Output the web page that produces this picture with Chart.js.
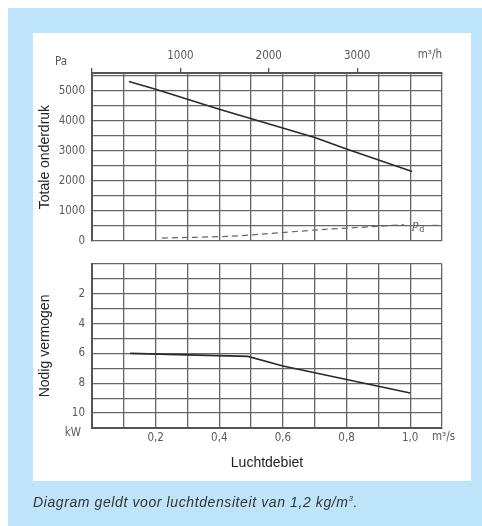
<!DOCTYPE html>
<html>
<head>
<meta charset="utf-8">
<script src="https://cdn.jsdelivr.net/npm/chart.js@4.4.1/dist/chart.umd.min.js"></script>
<style>
  body { margin: 0; width: 482px; height: 526px; position: relative; overflow: hidden; background: #fff; font-family: 'Liberation Sans', Arial, sans-serif; }
  #band { position: absolute; left: 8px; top: 8px; width: 474px; height: 518px; background: #bde4f9; }
  #panel { position: absolute; left: 33px; top: 33px; width: 438px; height: 448px; background: #fff; }
  #topChart { position: absolute; left: 33px; top: 33px; }
  #botChart { position: absolute; left: 33px; top: 250px; }
  #note { position: absolute; left: 33px; top: 494px; font-style: italic; font-size: 14px; letter-spacing: 0.6px; color: #333; }
</style>
</head>
<body>
<div id="band"></div>
<div id="panel"></div>
<canvas id="topChart" width="438" height="222"></canvas>
<canvas id="botChart" width="438" height="226"></canvas>
<div id="note">Diagram geldt voor luchtdensiteit van 1,2 kg/m<sup style="font-size:8px">3</sup>.</div>

<script>
// Values (flow in m3/s)
const pressureFlow = [0.116, 0.2, 0.4, 0.7, 0.8, 1.006];
const pressurePa = [5320, 5060, 4390, 3450, 3070, 2320];

const dynFlow = [0.22, 0.43, 0.53, 0.73, 0.88, 0.98];
const dynPa = [100, 160, 230, 390, 480, 550];

const powerFlow = [0.12, 0.3, 0.49, 0.6, 0.8, 1.0];
const powerKw = [6.0, 6.1, 6.2, 6.85, 7.75, 8.65];

// grid / tick labels
const flowGrid = [0, 0.1, 0.2, 0.3, 0.4, 0.5, 0.6, 0.7, 0.8, 0.9, 1.0, 1.1];
const flowLabels = ['', '', '0,2', '', '0,4', '', '0,6', '', '0,8', '', '1,0', ''];
const hourTicks = [0, 1000, 2000, 3000];
const hourLabels = ['', '1000', '2000', '3000'];
const paGrid = [0, 500, 1000, 1500, 2000, 2500, 3000, 3500, 4000, 4500, 5000, 5500, 5600];
const kwGrid = [0, 1, 2, 3, 4, 5, 6, 7, 8, 9, 10, 11];
const kwLabels = ['', '', '2', '', '4', '', '6', '', '8', '', '10', ''];

const GRID = '#666';
const FRAME = '#555';
const tickFont = { family: "'DejaVu Sans Condensed', 'DejaVu Sans', sans-serif", size: 11.5 };
const tickColor = '#5a5a5a';
const unitFont = "11.5px 'DejaVu Sans Condensed', 'DejaVu Sans', sans-serif";
const titleFont = { family: "'Liberation Sans', Arial, sans-serif", size: 14 };

function toPoints(xs, ys) {
    return xs.map((x, i) => ({ x: x, y: ys[i] }));
}

function setTicks(values) {
    return scale => { scale.ticks = values.map(v => ({ value: v })); };
}

// extra unit labels for the top chart
const topLabels = {
    id: 'topLabels',
    afterDraw(chart) {
        const ctx = chart.ctx;
        const area = chart.chartArea;
        const sx = chart.scales.x, sy = chart.scales.y;
        ctx.save();
        ctx.fillStyle = tickColor;
        ctx.font = unitFont;
        ctx.textBaseline = 'middle';
        ctx.textAlign = 'center';
        ctx.fillText('Pa', 28, 29);
        ctx.textAlign = 'right';
        ctx.fillText('m³/h', area.right, 22);
        // p_d marker at the end of the dashed curve
        const px = sx.getPixelForValue(1.0) + 2;
        const py = sy.getPixelForValue(560);
        ctx.textAlign = 'left';
        ctx.font = "italic 13px 'Liberation Serif', serif";
        ctx.fillText('p', px, py);
        ctx.font = "10px 'Liberation Serif', serif";
        ctx.fillText('d', px + 7, py + 5);
        ctx.strokeStyle = '#666';
        ctx.lineWidth = 1;
        ctx.beginPath();
        ctx.moveTo(px + 20, py + 1);
        ctx.lineTo(px + 26, py + 1);
        ctx.stroke();
        ctx.restore();
    }
};

const botLabels = {
    id: 'botLabels',
    afterDraw(chart) {
        const ctx = chart.ctx;
        const area = chart.chartArea;
        ctx.save();
        ctx.fillStyle = tickColor;
        ctx.font = unitFont;
        ctx.textBaseline = 'middle';
        ctx.textAlign = 'right';
        ctx.fillText('kW', 48, 183);
        ctx.textAlign = 'left';
        ctx.fillText('m³/s', area.right - 10, 187);
        ctx.restore();
    }
};

new Chart(document.getElementById('topChart'), {
    type: 'line',
    data: {
        datasets: [
            {
                data: toPoints(pressureFlow, pressurePa),
                borderColor: '#2a2a2a',
                borderWidth: 1.6,
                pointRadius: 0,
                xAxisID: 'x',
                yAxisID: 'y'
            },
            {
                data: toPoints(dynFlow, dynPa),
                borderColor: '#666',
                borderWidth: 1.2,
                borderDash: [6, 4],
                pointRadius: 0,
                tension: 0.3,
                xAxisID: 'x',
                yAxisID: 'y'
            }
        ]
    },
    options: {
        responsive: false,
        animation: false,
        layout: { padding: { left: 0, right: 29, top: 0, bottom: 8 } },
        plugins: { legend: { display: false }, tooltip: { enabled: false } },
        scales: {
            x: {
                type: 'linear',
                min: 0,
                max: 1.1,
                afterBuildTicks: setTicks(flowGrid),
                ticks: { display: false },
                grid: { color: GRID, lineWidth: 1.3, tickLength: 0 },
                border: { display: false },
                afterFit: s => { s.height = 0; }
            },
            xh: {
                type: 'linear',
                position: 'top',
                min: 0,
                max: 3960,
                afterBuildTicks: setTicks(hourTicks),
                ticks: {
                    font: tickFont,
                    color: tickColor,
                    padding: 5,
                    maxRotation: 0,
                    autoSkip: false,
                    callback: (v, i) => hourLabels[i]
                },
                grid: { drawOnChartArea: false, tickLength: 5, color: FRAME, lineWidth: 1.3 },
                border: { color: FRAME, width: 2 },
                afterFit: s => { s.height = 40; }
            },
            y: {
                min: 0,
                max: 5600,
                afterBuildTicks: setTicks(paGrid),
                ticks: {
                    font: tickFont,
                    color: tickColor,
                    padding: 7,
                    autoSkip: false,
                    callback: v => (v % 1000 === 0 ? String(v) : '')
                },
                grid: { color: GRID, lineWidth: 1.3, tickLength: 0 },
                border: { color: FRAME, width: 2 },
                title: { display: true, text: 'Totale onderdruk', font: titleFont, color: '#222' },
                afterFit: s => { s.width = 59; }
            }
        }
    },
    plugins: [topLabels]
});

new Chart(document.getElementById('botChart'), {
    type: 'line',
    data: {
        datasets: [
            {
                data: toPoints(powerFlow, powerKw),
                borderColor: '#2a2a2a',
                borderWidth: 1.6,
                pointRadius: 0
            }
        ]
    },
    options: {
        responsive: false,
        animation: false,
        layout: { padding: { left: 0, right: 29, top: 5, bottom: 0 } },
        plugins: { legend: { display: false }, tooltip: { enabled: false } },
        scales: {
            x: {
                type: 'linear',
                min: 0,
                max: 1.1,
                afterBuildTicks: setTicks(flowGrid),
                ticks: {
                    font: tickFont,
                    color: tickColor,
                    padding: 3,
                    maxRotation: 0,
                    autoSkip: false,
                    callback: (v, i) => flowLabels[i]
                },
                grid: { color: GRID, lineWidth: 1.3, tickLength: 0 },
                border: { color: FRAME, width: 2 },
                title: { display: true, text: 'Luchtdebiet', font: titleFont, color: '#222' },
                afterFit: s => { s.height = 48; }
            },
            y: {
                reverse: true,
                min: 0,
                max: 11,
                afterBuildTicks: setTicks(kwGrid),
                ticks: {
                    font: tickFont,
                    color: tickColor,
                    padding: 7,
                    autoSkip: false,
                    callback: (v, i) => kwLabels[i]
                },
                grid: { color: GRID, lineWidth: 1.3, tickLength: 0 },
                border: { color: FRAME, width: 2 },
                title: { display: true, text: 'Nodig vermogen', font: titleFont, color: '#222' },
                afterFit: s => { s.width = 59; }
            }
        }
    },
    plugins: [botLabels]
});
</script>
</body>
</html>
